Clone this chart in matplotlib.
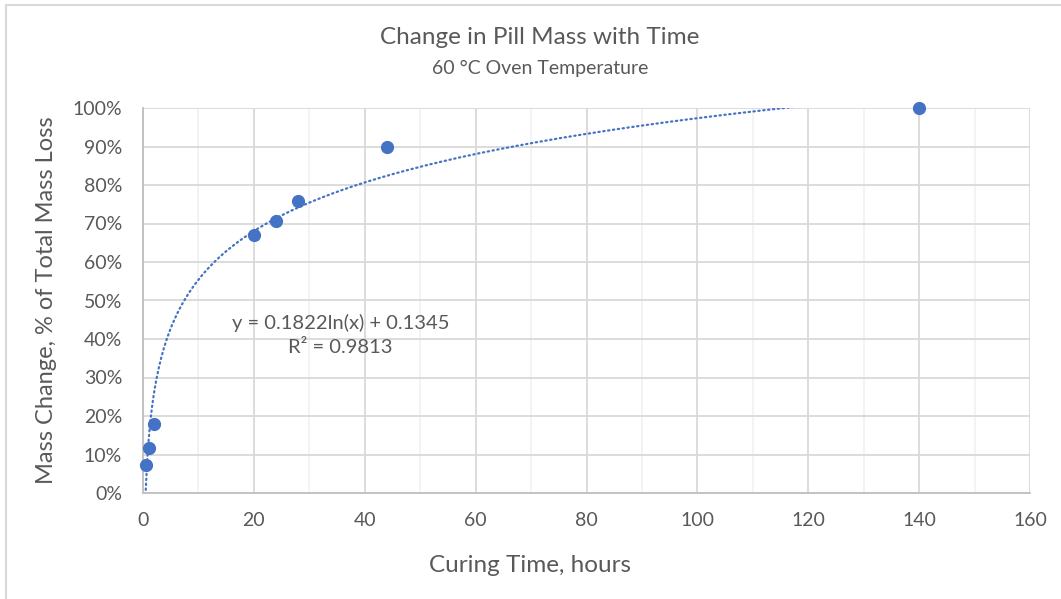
import numpy as np
import matplotlib.pyplot as plt
from matplotlib.patches import Rectangle
from matplotlib.ticker import MultipleLocator, FuncFormatter

plt.rcParams['font.family'] = ['Lato', 'DejaVu Sans']

# data
hours = [0.5, 1, 2, 20, 24, 28, 44, 140]
mass_change = [0.073, 0.117, 0.179, 0.670, 0.706, 0.758, 0.899, 1.0]

# trendline reported on the chart
fit_a = 0.1822
fit_b = 0.1345
fit_r2 = 0.9813

blue = '#4472C4'
text_col = '#595959'

fig = plt.figure(figsize=(10.61, 5.99), dpi=100)
ax = fig.add_axes([143 / 1061, 1 - 493 / 599, (1030 - 143) / 1061, (493 - 108) / 599])

# outer chart border
fig.patches.append(Rectangle((6 / 1061, -0.1), 1.2, 1 - 5 / 599 + 0.1,
                             transform=fig.transFigure, fill=False,
                             edgecolor='#D9D9D9', linewidth=1.5, zorder=0))

ax.set_xlim(0, 160)
ax.set_ylim(0, 1.0)
ax.xaxis.set_major_locator(MultipleLocator(20))
ax.xaxis.set_minor_locator(MultipleLocator(10))
ax.yaxis.set_major_locator(MultipleLocator(0.1))
ax.yaxis.set_major_formatter(FuncFormatter(lambda v, p: f'{v * 100:.0f}%'))

ax.grid(True, which='major', color='#D9D9D9', linewidth=1.3)
ax.grid(True, which='minor', axis='x', color='#F2F2F2', linewidth=1.3)
ax.set_axisbelow(True)

for s in ['top', 'right']:
    ax.spines[s].set_visible(False)
for s in ['left', 'bottom']:
    ax.spines[s].set_color('#BFBFBF')
    ax.spines[s].set_linewidth(1.3)

ax.tick_params(which='both', length=0, labelsize=14, labelcolor=text_col)
ax.tick_params(axis='x', pad=14)
ax.tick_params(axis='y', pad=15)

# log trendline, clipped by the axes
xt = np.linspace(min(hours), max(hours), 600)
ax.plot(xt, fit_a * np.log(xt) + fit_b, color=blue, linewidth=1.6,
        linestyle=(0, (0.6, 1.6)), dash_capstyle='round', zorder=2)

ax.plot(hours, mass_change, 'o', color=blue, markersize=8.5, zorder=3,
        clip_on=False)

ax.text(0.223, 0.442, f'y = {fit_a}ln(x) + {fit_b}', transform=ax.transAxes,
        fontsize=14.5, color=text_col, ha='center', va='center')
ax.text(0.222, 0.377, f'R² = {fit_r2}', transform=ax.transAxes,
        fontsize=14.5, color=text_col, ha='center', va='center')

fig.text(540 / 1061, 1 - 38 / 599, 'Change in Pill Mass with Time',
         fontsize=17.5, color=text_col, ha='center', va='center')
fig.text(540 / 1061, 1 - 68 / 599, '60 °C Oven Temperature',
         fontsize=14, color=text_col, ha='center', va='center')
fig.text(530 / 1061, 1 - 566 / 599, 'Curing Time, hours',
         fontsize=17.5, color=text_col, ha='center', va='center')
fig.text(47 / 1061, 1 - 300 / 599, 'Mass Change, % of Total Mass Loss',
         fontsize=17, color=text_col, ha='center', va='center', rotation=90)

fig.savefig('out.png', dpi=100)
